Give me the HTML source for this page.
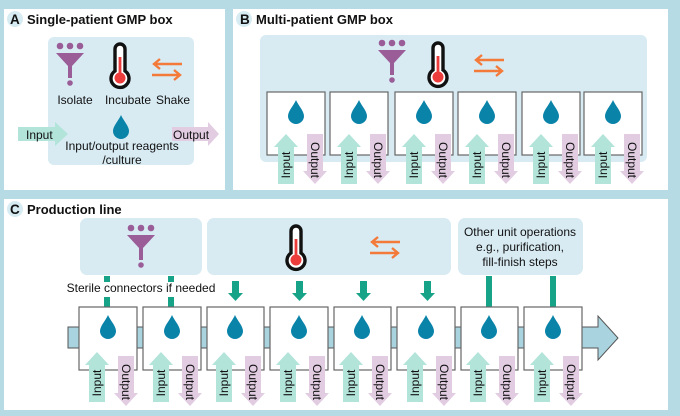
<!DOCTYPE html>
<html><head><meta charset="utf-8"><style>
html,body{margin:0;padding:0;background:#b7dbe5;}
svg{display:block;font-family:"Liberation Sans",sans-serif;}
</style></head><body>
<svg width="680" height="416" viewBox="0 0 680 416" xmlns="http://www.w3.org/2000/svg">
<defs>
<g id="drop"><path d="M8,0 C6,5 0,11 0,16 A8,8 0 0 0 16,16 C16,11 10,5 8,0Z" fill="#0a83a9"/></g>
<g id="funnel" fill="#9a5d98"><circle cx="4" cy="3" r="3.3"/><circle cx="14" cy="3" r="3.3"/><circle cx="24" cy="3" r="3.3"/><path d="M0,10 H28 L16,23 V35 H12 V23 Z"/><circle cx="14" cy="40" r="2.8"/></g>
<g id="thermo"><path d="M5,4 A5,5 0 0 1 15,4 V26 A9,9 0 1 1 5,26 Z" fill="#fff" stroke="#111" stroke-width="3.4"/><circle cx="10" cy="33" r="5.5" fill="#ec3c3c"/><rect x="8.6" y="12" width="2.8" height="20" fill="#ec3c3c"/></g>
<g id="shake" fill="none" stroke="#f47a3a" stroke-width="2.4"><path d="M2,4 H30 M8,-1 L2,4 L8,9"/><path d="M0,15 H28 M22,10 L28,15 L22,20"/></g>
<path id="ain" d="M12,0 L24,13 H20 V50 H4 V13 H0 Z" fill="#b2e4d9"/>
<path id="aout" d="M4,0 H20 V37 H24 L12,50 L0,37 H4 Z" fill="#e2cce2"/>
</defs>

<!-- Panel A -->
<rect x="4" y="9" width="221" height="181" fill="#fff"/>
<circle cx="15" cy="19" r="8" fill="#d6ebf2"/>
<text x="10" y="24" font-size="13.5" font-weight="bold" fill="#111">A</text>
<text x="27" y="24" font-size="13" font-weight="bold" fill="#111">Single-patient GMP box</text>
<rect x="48" y="37" width="146" height="128" rx="6" fill="#d8ebf3"/>
<use href="#funnel" x="56" y="43"/>
<use href="#thermo" x="110" y="45"/>
<use href="#shake" x="152" y="60"/>
<text x="75" y="104" font-size="12" text-anchor="middle" fill="#111">Isolate</text>
<text x="128" y="104" font-size="12" text-anchor="middle" fill="#111">Incubate</text>
<text x="173" y="104" font-size="12" text-anchor="middle" fill="#111">Shake</text>
<use href="#drop" x="113" y="115"/>
<path d="M18,127 H55 V122 L68,134 L55,146 V141 H18 Z" fill="#b2e4d9"/>
<text x="26" y="139" font-size="12" fill="#111">Input</text>
<path d="M172,127 H208 V122 L219,134 L208,146 V141 H172 Z" fill="#e2cce2"/>
<text x="173" y="139" font-size="12" fill="#111">Output</text>
<text x="122" y="150" font-size="12" text-anchor="middle" fill="#111">Input/output reagents</text>
<text x="122" y="164" font-size="12" text-anchor="middle" fill="#111">/culture</text>

<!-- Panel B -->
<rect x="233" y="9" width="435" height="181" fill="#fff"/>
<circle cx="244" cy="19" r="8" fill="#d6ebf2"/>
<text x="240" y="24" font-size="13.5" font-weight="bold" fill="#111">B</text>
<text x="256" y="24" font-size="13" font-weight="bold" fill="#111">Multi-patient GMP box</text>
<rect x="260" y="35" width="387" height="127" rx="6" fill="#d8ebf3"/>
<use href="#funnel" x="378" y="40"/>
<use href="#thermo" x="428" y="44"/>
<use href="#shake" x="474" y="56"/>
<g stroke="#666" stroke-width="1.2" fill="#fff">
<rect x="267" y="92" width="58" height="63"/><rect x="330" y="92" width="58" height="63"/><rect x="395" y="92" width="58" height="63"/><rect x="458" y="92" width="58" height="63"/><rect x="522" y="92" width="58" height="63"/><rect x="584" y="92" width="58" height="63"/>
</g>
<g>
<use href="#drop" x="288" y="100"/><use href="#drop" x="351" y="100"/><use href="#drop" x="416" y="100"/><use href="#drop" x="479" y="100"/><use href="#drop" x="543" y="100"/><use href="#drop" x="605" y="100"/>
<use href="#ain" x="274" y="134"/><use href="#aout" x="303" y="134"/>
<use href="#ain" x="337" y="134"/><use href="#aout" x="366" y="134"/>
<use href="#ain" x="402" y="134"/><use href="#aout" x="431" y="134"/>
<use href="#ain" x="465" y="134"/><use href="#aout" x="494" y="134"/>
<use href="#ain" x="529" y="134"/><use href="#aout" x="558" y="134"/>
<use href="#ain" x="591" y="134"/><use href="#aout" x="620" y="134"/>
</g>
<g font-size="12" fill="#111" text-anchor="middle">
<text transform="translate(290,165) rotate(-90)">Input</text><text transform="translate(311,160) rotate(90)">Output</text>
<text transform="translate(353,165) rotate(-90)">Input</text><text transform="translate(374,160) rotate(90)">Output</text>
<text transform="translate(418,165) rotate(-90)">Input</text><text transform="translate(439,160) rotate(90)">Output</text>
<text transform="translate(481,165) rotate(-90)">Input</text><text transform="translate(502,160) rotate(90)">Output</text>
<text transform="translate(545,165) rotate(-90)">Input</text><text transform="translate(566,160) rotate(90)">Output</text>
<text transform="translate(607,165) rotate(-90)">Input</text><text transform="translate(628,160) rotate(90)">Output</text>
</g>

<!-- Panel C -->
<rect x="4" y="199" width="664" height="211" fill="#fff"/>
<circle cx="15" cy="209" r="8" fill="#d6ebf2"/>
<text x="10" y="214" font-size="13.5" font-weight="bold" fill="#111">C</text>
<text x="27" y="214" font-size="13" font-weight="bold" fill="#111">Production line</text>
<rect x="80" y="218" width="122" height="57" rx="7" fill="#d8ebf3"/>
<rect x="207" y="218" width="244" height="57" rx="7" fill="#d8ebf3"/>
<rect x="458" y="218" width="125" height="57" rx="7" fill="#d8ebf3"/>
<use href="#funnel" x="127" y="225"/>
<use href="#thermo" x="286" y="227"/>
<use href="#shake" x="370" y="238"/>
<g font-size="12" fill="#111" text-anchor="middle">
<text x="520" y="236">Other unit operations</text>
<text x="520" y="251">e.g., purification,</text>
<text x="520" y="266">fill-finish steps</text>
</g>
<text x="141" y="292" font-size="12" text-anchor="middle" fill="#111">Sterile connectors if needed</text>
<g fill="#16a388">
<rect x="104" y="276" width="6" height="6"/><rect x="104" y="297" width="6" height="11"/>
<rect x="168" y="276" width="6" height="6"/><rect x="168" y="297" width="6" height="11"/>
<rect x="486" y="276" width="6" height="32"/><rect x="550" y="276" width="6" height="32"/>
<path d="M232,281 H239 V293 H243 L235.5,301 L228,293 H232 Z"/>
<path d="M296,281 H303 V293 H307 L299.5,301 L292,293 H296 Z"/>
<path d="M360,281 H367 V293 H371 L363.5,301 L356,293 H360 Z"/>
<path d="M424,281 H431 V293 H435 L427.5,301 L420,293 H424 Z"/>
</g>
<path d="M68,327 H598 V316 L618,338 L598,360 V348 H68 Z" fill="#a9d4df" stroke="#555" stroke-width="1"/>
<g stroke="#666" stroke-width="1.2" fill="#fff">
<rect x="79" y="307" width="58" height="63"/><rect x="143" y="307" width="58" height="63"/><rect x="207" y="307" width="57" height="63"/><rect x="270" y="307" width="58" height="63"/><rect x="334" y="307" width="57" height="63"/><rect x="397" y="307" width="58" height="63"/><rect x="461" y="307" width="57" height="63"/><rect x="524" y="307" width="58" height="63"/>
</g>
<use href="#drop" x="100" y="315"/><use href="#drop" x="164" y="315"/><use href="#drop" x="227" y="315"/><use href="#drop" x="291" y="315"/><use href="#drop" x="354" y="315"/><use href="#drop" x="418" y="315"/><use href="#drop" x="481" y="315"/><use href="#drop" x="545" y="315"/>
<use href="#ain" x="85" y="352"/><use href="#aout" x="114" y="356"/>
<use href="#ain" x="149" y="352"/><use href="#aout" x="178" y="356"/>
<use href="#ain" x="212" y="352"/><use href="#aout" x="241" y="356"/>
<use href="#ain" x="276" y="352"/><use href="#aout" x="305" y="356"/>
<use href="#ain" x="339" y="352"/><use href="#aout" x="368" y="356"/>
<use href="#ain" x="403" y="352"/><use href="#aout" x="432" y="356"/>
<use href="#ain" x="466" y="352"/><use href="#aout" x="495" y="356"/>
<use href="#ain" x="530" y="352"/><use href="#aout" x="559" y="356"/>
<g font-size="12" fill="#111" text-anchor="middle">
<text transform="translate(101,383) rotate(-90)">Input</text><text transform="translate(122,382) rotate(90)">Output</text>
<text transform="translate(165,383) rotate(-90)">Input</text><text transform="translate(186,382) rotate(90)">Output</text>
<text transform="translate(228,383) rotate(-90)">Input</text><text transform="translate(249,382) rotate(90)">Output</text>
<text transform="translate(292,383) rotate(-90)">Input</text><text transform="translate(313,382) rotate(90)">Output</text>
<text transform="translate(355,383) rotate(-90)">Input</text><text transform="translate(376,382) rotate(90)">Output</text>
<text transform="translate(419,383) rotate(-90)">Input</text><text transform="translate(440,382) rotate(90)">Output</text>
<text transform="translate(482,383) rotate(-90)">Input</text><text transform="translate(503,382) rotate(90)">Output</text>
<text transform="translate(546,383) rotate(-90)">Input</text><text transform="translate(567,382) rotate(90)">Output</text>
</g>
</svg>
</body></html>
